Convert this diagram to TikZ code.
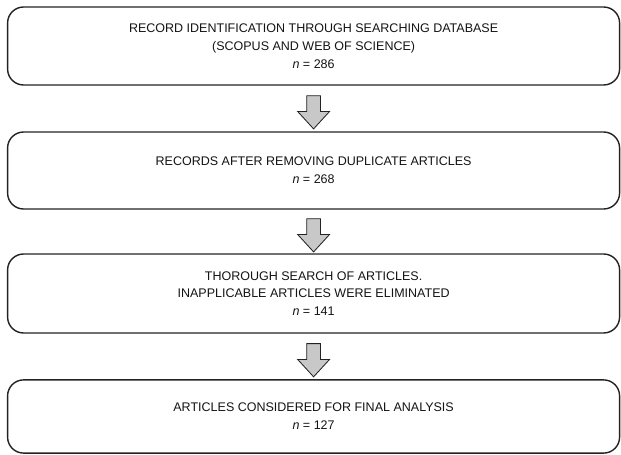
\documentclass[tikz,border=0pt]{standalone}
\usepackage{fontspec}
\setmainfont{Liberation Sans}
\usepackage{xcolor}
\definecolor{boxline}{RGB}{35,35,35}
\definecolor{arrowfill}{RGB}{200,200,200}
\definecolor{textgray}{RGB}{20,20,20}
\usepackage{tikz}
\usetikzlibrary{shapes.arrows,positioning,calc}

\begin{document}
\begin{tikzpicture}[
  stage/.style={rectangle,draw=boxline,line width=1pt,rounded corners=0.4cm,
                minimum width=15.3cm,align=center,text=textgray,
                font=\fontsize{8.9}{12.7}\selectfont},
  downarrow/.style={single arrow,draw=boxline,fill=arrowfill,line width=0.6pt,
                    minimum height=0.83cm,inner xsep=0pt,inner ysep=0.1625cm,
                    single arrow head extend=0.225cm,single arrow tip angle=85,rotate=-90},
]
\useasboundingbox (0,0) rectangle (15.525,-11.375);
\node[stage,minimum height=1.95cm]  (ident) at (7.84,-1.15)
  {RECORD IDENTIFICATION THROUGH SEARCHING DATABASE\\(SCOPUS AND WEB OF SCIENCE)\\\textit{n} = 286};
\node[stage,minimum height=1.925cm] (dedup) at (7.84,-4.2625)
  {RECORDS AFTER REMOVING DUPLICATE ARTICLES\\\textit{n} = 268};
\node[stage,minimum height=1.975cm] (screen) at (7.84,-7.3375)
  {THOROUGH SEARCH OF ARTICLES.\\INAPPLICABLE ARTICLES WERE ELIMINATED\\\textit{n} = 141};
\node[stage,minimum height=1.83cm]  (final) at (7.84,-10.4125)
  {ARTICLES CONSIDERED FOR FINAL ANALYSIS\\\textit{n} = 127};
\node[downarrow] (a1) at ($(ident.south)!0.5!(dedup.north)$) {};
\node[downarrow] (a2) at ($(dedup.south)!0.5!(screen.north)$) {};
\node[downarrow] (a3) at ($(screen.south)!0.5!(final.north)$) {};
\end{tikzpicture}
\end{document}
